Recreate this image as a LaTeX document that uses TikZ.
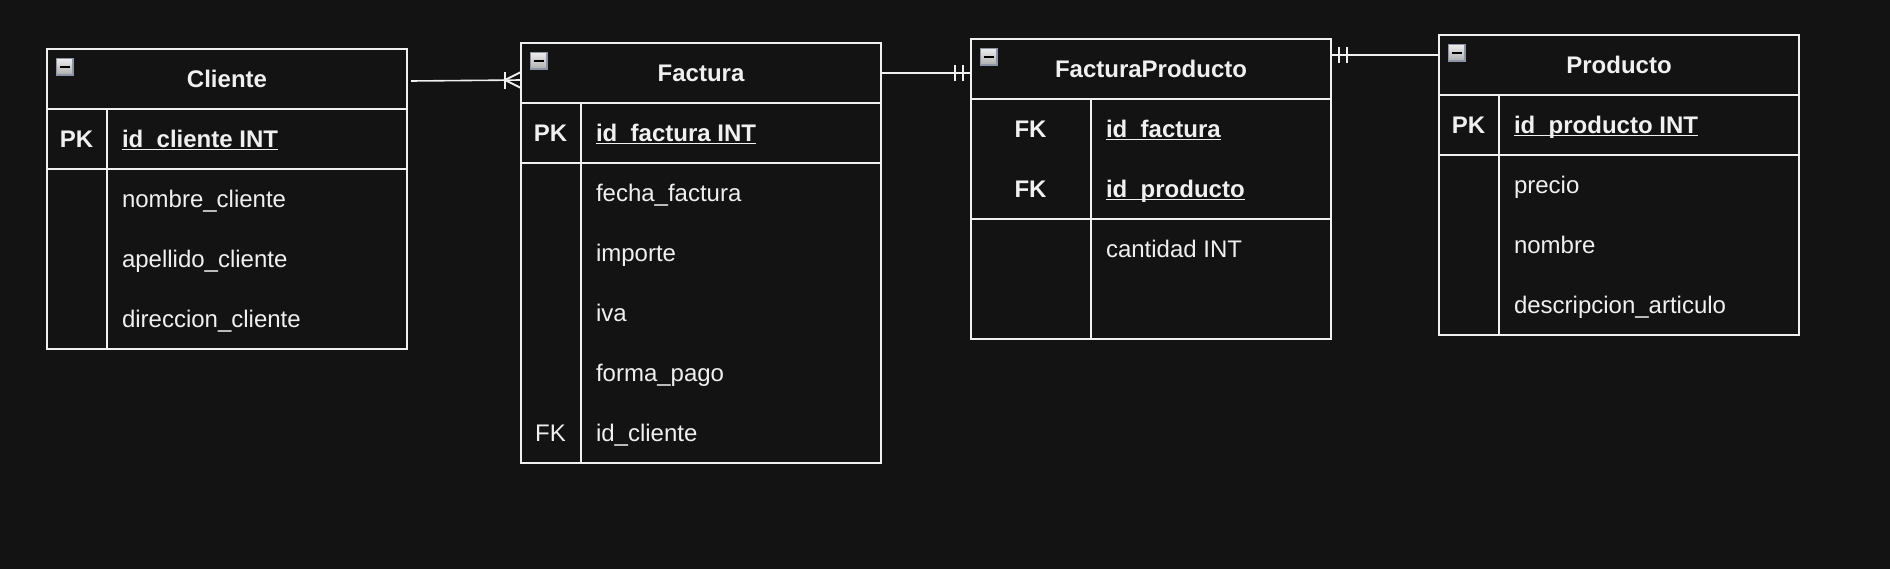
\documentclass[tikz,border=0pt]{standalone}
\usepackage{fontspec}
\setmainfont{Liberation Sans}
\definecolor{bgc}{HTML}{131313}
\definecolor{fgc}{HTML}{F0F0F0}
\definecolor{iconedge}{HTML}{8C94A8}
\newsavebox{\ulbox}
\newcommand{\ulined}[1]{\sbox{\ulbox}{#1}\usebox{\ulbox}\llap{\rule[-3.4pt]{\wd\ulbox}{1.5pt}}}
\tikzset{
  cell/.style={draw=fgc,line width=1.7pt,rectangle,inner sep=0pt,outer sep=0pt,anchor=north west},
  wide/.style={minimum width=360pt,minimum height=60pt},
  txt/.style={text=fgc,font=\fontsize{24}{28}\selectfont,inner sep=0pt,outer sep=0pt},
  fieldt/.style={txt,anchor=base west},
  keyt/.style={txt,anchor=base},
  titlet/.style={txt,anchor=base,font=\fontsize{24}{28}\selectfont\bfseries},
  icon/.style={rectangle,draw=iconedge,line width=1.8pt,top color=white!93!black,bottom color=white!68!black,
    minimum size=16.5pt,inner sep=0pt,outer sep=0pt,anchor=north west},
  iconbar/.style={line width=2pt,black},
  link/.style={draw=fgc,line width=1.6pt},
  tick/.style={draw=fgc,line width=1.8pt}
}
\begin{document}
\begin{tikzpicture}[x=1pt,y=-1pt]
\useasboundingbox (0,0) rectangle (1890,568);
\fill[bgc] (-6,-6) rectangle (1896,574);

% Cliente
\node[cell,wide] (cHead) at (47,49) {};
\node[cell,minimum width=60pt,minimum height=60pt] (cK1) at (47,109) {};
\node[cell,minimum width=300pt,minimum height=60pt] (cF1) at (107,109) {};
\node[cell,minimum width=60pt,minimum height=180pt] (cK2) at (47,169) {};
\node[cell,minimum width=300pt,minimum height=180pt] (cF2) at (107,169) {};
\node[icon] (cIcon) at (56.5,58.5) {};
\draw[iconbar] ([xshift=3pt]cIcon.west) -- ([xshift=-3pt]cIcon.east);
\node[titlet] (cT) at (227,87) {Cliente};
\node[keyt,font=\fontsize{24}{28}\selectfont\bfseries] (cPK) at (76.5,147) {PK};
\node[fieldt,font=\fontsize{24}{28}\selectfont\bfseries] (cA) at (122,147) {\ulined{id\_cliente INT}};
\node[fieldt] (cB) at (122,207) {nombre\_cliente};
\node[fieldt] (cC) at (122,267) {apellido\_cliente};
\node[fieldt] (cD) at (122,327) {direccion\_cliente};

% Factura
\node[cell,wide] (fHead) at (521,43) {};
\node[cell,minimum width=60pt,minimum height=60pt] (fK1) at (521,103) {};
\node[cell,minimum width=300pt,minimum height=60pt] (fF1) at (581,103) {};
\node[cell,minimum width=60pt,minimum height=300pt] (fK2) at (521,163) {};
\node[cell,minimum width=300pt,minimum height=300pt] (fF2) at (581,163) {};
\node[icon] (fIcon) at (530.5,52.5) {};
\draw[iconbar] ([xshift=3pt]fIcon.west) -- ([xshift=-3pt]fIcon.east);
\node[titlet] (fT) at (701,81) {Factura};
\node[keyt,font=\fontsize{24}{28}\selectfont\bfseries] (fPK) at (550.5,141) {PK};
\node[fieldt,font=\fontsize{24}{28}\selectfont\bfseries] (fA) at (596,141) {\ulined{id\_factura INT}};
\node[fieldt] (fB) at (596,201) {fecha\_factura};
\node[fieldt] (fC) at (596,261) {importe};
\node[fieldt] (fD) at (596,321) {iva};
\node[fieldt] (fE) at (596,381) {forma\_pago};
\node[keyt] (fFK) at (550.5,441) {FK};
\node[fieldt] (fG) at (596,441) {id\_cliente};

% FacturaProducto
\node[cell,wide] (xHead) at (971,39) {};
\node[cell,minimum width=120pt,minimum height=120pt] (xK1) at (971,99) {};
\node[cell,minimum width=240pt,minimum height=120pt] (xF1) at (1091,99) {};
\node[cell,minimum width=120pt,minimum height=120pt] (xK2) at (971,219) {};
\node[cell,minimum width=240pt,minimum height=120pt] (xF2) at (1091,219) {};
\node[icon] (xIcon) at (980.5,48.5) {};
\draw[iconbar] ([xshift=3pt]xIcon.west) -- ([xshift=-3pt]xIcon.east);
\node[titlet] (xT) at (1151,77) {FacturaProducto};
\node[keyt,font=\fontsize{24}{28}\selectfont\bfseries] (xFK1) at (1030.5,137) {FK};
\node[keyt,font=\fontsize{24}{28}\selectfont\bfseries] (xFK2) at (1030.5,197) {FK};
\node[fieldt,font=\fontsize{24}{28}\selectfont\bfseries] (xA) at (1106,137) {\ulined{id\_factura}};
\node[fieldt,font=\fontsize{24}{28}\selectfont\bfseries] (xB) at (1106,197) {\ulined{id\_producto}};
\node[fieldt] (xC) at (1106,257) {cantidad INT};

% Producto
\node[cell,wide] (pHead) at (1439,35) {};
\node[cell,minimum width=60pt,minimum height=60pt] (pK1) at (1439,95) {};
\node[cell,minimum width=300pt,minimum height=60pt] (pF1) at (1499,95) {};
\node[cell,minimum width=60pt,minimum height=180pt] (pK2) at (1439,155) {};
\node[cell,minimum width=300pt,minimum height=180pt] (pF2) at (1499,155) {};
\node[icon] (pIcon) at (1448.5,44.5) {};
\draw[iconbar] ([xshift=3pt]pIcon.west) -- ([xshift=-3pt]pIcon.east);
\node[titlet] (pT) at (1619,73) {Producto};
\node[keyt,font=\fontsize{24}{28}\selectfont\bfseries] (pPK) at (1468.5,133) {PK};
\node[fieldt,font=\fontsize{24}{28}\selectfont\bfseries] (pA) at (1514,133) {\ulined{id\_producto INT}};
\node[fieldt] (pB) at (1514,193) {precio};
\node[fieldt] (pC) at (1514,253) {nombre};
\node[fieldt] (pD) at (1514,313) {descripcion\_articulo};

% Connectors
\draw[link] ([xshift=4pt,yshift=-2pt]cHead.east) -- ([yshift=-7pt]fHead.west);
\draw[tick] ([xshift=-16pt,yshift=-15.5pt]fHead.west) -- ([xshift=-16pt,yshift=1pt]fHead.west);
\draw[tick] ([yshift=1pt]fHead.west) -- ([xshift=-16pt,yshift=-7pt]fHead.west) -- ([yshift=-15pt]fHead.west);

\draw[link] ([yshift=0pt]fHead.east) -- ([yshift=-4pt]xHead.west);
\draw[tick] ([xshift=-8pt,yshift=4pt]xHead.west) -- ([xshift=-8pt,yshift=-12pt]xHead.west);
\draw[tick] ([xshift=-16pt,yshift=4pt]xHead.west) -- ([xshift=-16pt,yshift=-12pt]xHead.west);

\draw[link] ([yshift=14pt]xHead.east) -- ([yshift=10pt]pHead.west);
\draw[tick] ([xshift=8pt,yshift=22pt]xHead.east) -- ([xshift=8pt,yshift=6pt]xHead.east);
\draw[tick] ([xshift=16pt,yshift=22pt]xHead.east) -- ([xshift=16pt,yshift=6pt]xHead.east);
\end{tikzpicture}
\end{document}
